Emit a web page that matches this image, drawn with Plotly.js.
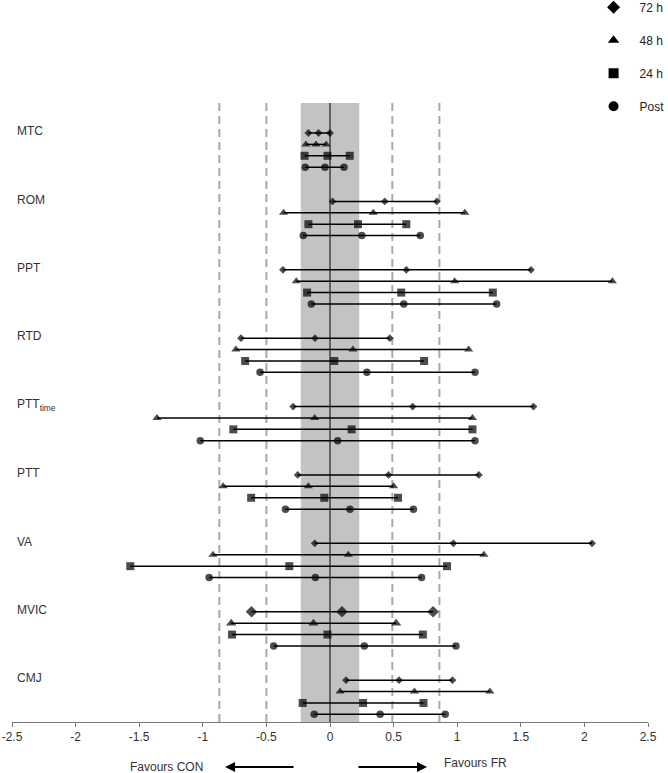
<!DOCTYPE html>
<html>
<head>
<meta charset="utf-8">
<script src="https://cdn.plot.ly/plotly-3.0.1.min.js"></script>
<style>html,body{margin:0;padding:0;background:#fff;}#chart{width:668px;height:773px;}</style>
</head>
<body>
<div id="chart"></div>
<script>
// Outcome categories (top to bottom)
const categories = ['MTC', 'ROM', 'PPT', 'RTD', 'PTT<sub>time</sub>', 'PTT', 'VA', 'MVIC', 'CMJ'];
const seriesNames = ['72 h', '48 h', '24 h', 'Post'];

// Effect sizes: lower CI, estimate, upper CI for each category
const h72_lo  = [-0.17, 0.02, -0.37, -0.70, -0.29, -0.254, -0.12, -0.617, 0.126];
const h72_est = [-0.09, 0.43, 0.60, -0.118, 0.65, 0.46, 0.97, 0.094, 0.543];
const h72_hi  = [0.00, 0.84, 1.58, 0.47, 1.60, 1.17, 2.06, 0.81, 0.963];

const h48_lo  = [-0.19, -0.365, -0.265, -0.74, -1.36, -0.84, -0.92, -0.777, 0.079];
const h48_est = [-0.11, 0.34, 0.98, 0.18, -0.12, -0.17, 0.144, -0.13, 0.664];
const h48_hi  = [-0.03, 1.06, 2.22, 1.09, 1.12, 0.50, 1.21, 0.52, 1.257];

const h24_lo  = [-0.20, -0.17, -0.18, -0.667, -0.76, -0.62, -1.57, -0.77, -0.215];
const h24_est = [-0.02, 0.22, 0.56, 0.034, 0.17, -0.045, -0.32, -0.02, 0.26];
const h24_hi  = [0.155, 0.60, 1.28, 0.74, 1.12, 0.535, 0.92, 0.73, 0.735];

const post_lo  = [-0.195, -0.21, -0.147, -0.55, -1.02, -0.35, -0.95, -0.443, -0.124];
const post_est = [-0.04, 0.25, 0.58, 0.29, 0.06, 0.157, -0.115, 0.27, 0.394];
const post_hi  = [0.11, 0.71, 1.31, 1.14, 1.14, 0.656, 0.72, 0.99, 0.906];

// Reference thresholds
const trivialBand = [-0.23, 0.23];
const dashedRefs = [-0.87, -0.5, 0.49, 0.86];
const xTicks = [-2.5, -2, -1.5, -1, -0.5, 0, 0.5, 1, 1.5, 2, 2.5];

// ---- styling ----
const symbols = ['diamond', 'triangle-up', 'square', 'circle'];
const baseSizes = [6, 8, 8, 7.5];
const catSizeBoost = {7: [3, 1, 0, 0]}; // MVIC markers drawn larger
const catStep = 6;
const FONT = 'Liberation Sans, Arial, sans-serif';

const lows = [h72_lo, h48_lo, h24_lo, post_lo];
const ests = [h72_est, h48_est, h24_est, post_est];
const highs = [h72_hi, h48_hi, h24_hi, post_hi];

const traces = [];
for (let s = 0; s < 4; s++) {
  const xs = [], ys = [], sz = [];
  for (let c = 0; c < categories.length; c++) {
    const pos = c * catStep + s;
    const b = catSizeBoost[c] ? catSizeBoost[c][s] : 0;
    [lows[s][c], ests[s][c], highs[s][c]].forEach(v => { xs.push(v); ys.push(pos); sz.push(baseSizes[s] + b); });
    xs.push(null); ys.push(null); sz.push(0);
  }
  traces.push({
    type: 'scatter', mode: 'lines+markers', x: xs, y: ys,
    line: {color: '#000', width: 1.5},
    marker: {symbol: symbols[s], size: sz, color: '#000', line: {width: 0}},
    showlegend: false, hoverinfo: 'x', connectgaps: false
  });
}
// legend-only entries (markers only)
for (let s = 0; s < 4; s++) {
  traces.push({
    type: 'scatter', mode: 'markers', x: [null], y: [null],
    name: seriesNames[s], legendgroup: 'g' + s,
    marker: {symbol: symbols[s], size: 10, color: '#000', line: {width: 0}},
    showlegend: true
  });
}

const nRows = (categories.length - 1) * catStep + 3;
const shapes = [
  {type: 'rect', xref: 'x', yref: 'paper', x0: trivialBand[0], x1: trivialBand[1], y0: 0, y1: 1,
   fillcolor: '#c3c3c3', line: {width: 0}, layer: 'below'},
  {type: 'line', xref: 'x', yref: 'paper', x0: 0, x1: 0, y0: 0, y1: 1,
   line: {color: '#000', width: 1}, layer: 'below'}
];
dashedRefs.forEach(v => shapes.push({
  type: 'line', xref: 'x', yref: 'paper', x0: v, x1: v, y0: 0, y1: 1,
  line: {color: '#aaaaaa', width: 2, dash: '8px,5px'}, layer: 'below'
}));

const annotations = categories.map((c, i) => ({
  xref: 'paper', yref: 'y', x: 0.005, y: i * catStep - 0.15, text: c, showarrow: false,
  xanchor: 'left', yanchor: 'middle', font: {family: FONT, size: 12, color: '#333'}
}));
annotations.push(
  {xref: 'paper', yref: 'paper', x: 0.2437, y: -0.0727, text: 'Favours CON', showarrow: false,
   xanchor: 'center', yanchor: 'middle', font: {family: FONT, size: 12, color: '#333'}},
  {xref: 'paper', yref: 'paper', x: 0.7288, y: -0.067, text: 'Favours FR', showarrow: false,
   xanchor: 'center', yanchor: 'middle', font: {family: FONT, size: 12, color: '#333'}},
  {xref: 'paper', yref: 'paper', x: 0.335, y: -0.0727, text: '', showarrow: true,
   ax: 70, ay: 0, arrowhead: 2, arrowsize: 1, arrowwidth: 2, arrowcolor: '#000'},
  {xref: 'paper', yref: 'paper', x: 0.6525, y: -0.0727, text: '', showarrow: true,
   ax: -70, ay: 0, arrowhead: 2, arrowsize: 1, arrowwidth: 2, arrowcolor: '#000'}
);

const layout = {
  width: 668, height: 773,
  margin: {l: 12, r: 20, t: 103, b: 51, autoexpand: false},
  paper_bgcolor: '#fff', plot_bgcolor: 'rgba(0,0,0,0)',
  font: {family: FONT, size: 12, color: '#333'},
  xaxis: {
    range: [-2.5, 2.5], tickmode: 'array', tickvals: xTicks,
    ticktext: xTicks.map(v => String(v)),
    showgrid: false, zeroline: false, showline: true, linecolor: '#777', linewidth: 1,
    ticks: 'outside', ticklen: 4, tickcolor: '#777', tickfont: {size: 12, color: '#333'}
  },
  yaxis: {
    range: [nRows + 0.67, -2.63], showgrid: false, zeroline: false, showline: false,
    showticklabels: false, ticks: ''
  },
  showlegend: true,
  legend: {
    x: 0.905, xanchor: 'left', y: 1.178, yanchor: 'top',
    bgcolor: 'rgba(0,0,0,0)', borderwidth: 0, tracegroupgap: 14, itemwidth: 42,
    font: {size: 12, color: '#222'}, traceorder: 'grouped'
  },
  shapes: shapes,
  annotations: annotations
};

Plotly.newPlot('chart', traces, layout, {displayModeBar: false, staticPlot: true});
</script>
</body>
</html>
